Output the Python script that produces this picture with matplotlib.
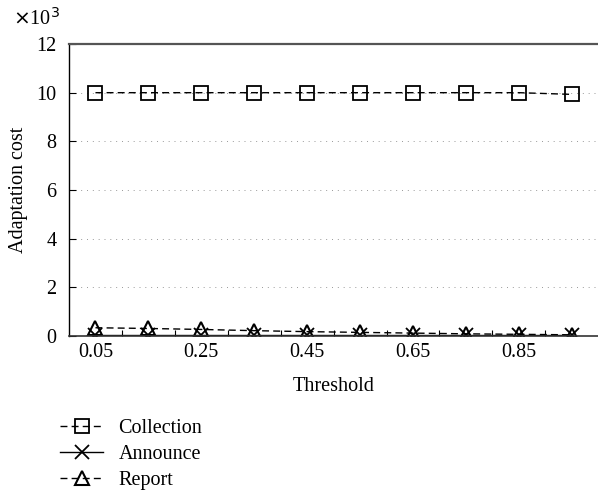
import matplotlib
matplotlib.use("Agg")
import matplotlib.pyplot as plt
from matplotlib.ticker import FixedLocator

plt.rcParams['font.family'] = ['Liberation Serif', 'DejaVu Serif']

thresholds = [0.05, 0.15, 0.25, 0.35, 0.45, 0.55, 0.65, 0.75, 0.85, 0.95]
collection = [10.0, 10.0, 10.0, 10.0, 10.0, 10.0, 10.0, 10.0, 10.0, 9.93]
announce = [0.04, 0.04, 0.04, 0.04, 0.04, 0.04, 0.04, 0.04, 0.04, 0.04]
report = [0.34, 0.31, 0.27, 0.22, 0.18, 0.15, 0.12, 0.09, 0.07, 0.05]
xtick_labels = ["0.05", "0.25", "0.45", "0.65", "0.85"]
yticks = [0, 2, 4, 6, 8, 10, 12]

FS = 14.5

fig = plt.figure(figsize=(5.98, 4.94), dpi=100)
ax = fig.add_axes([0.1154, 0.3198, 0.885, 0.5911])

ax.plot(thresholds, collection, linestyle=(0, (5, 3)), color='black', lw=1.0,
        marker='s', markersize=9.5, markerfacecolor='none', markeredgewidth=1.3,
        label='Collection')
ax.plot(thresholds, announce, linestyle='-', color='black', lw=1.0,
        marker='x', markersize=10, markeredgewidth=1.3, label='Announce')
ax.plot(thresholds, report, linestyle=(0, (5, 3)), color='black', lw=1.0,
        marker='^', markersize=10, markerfacecolor='none', markeredgewidth=1.5,
        label='Report')

ax.set_xlim(0, 1.0)
ax.set_ylim(0, 12)
ax.set_xticks([float(t) for t in xtick_labels])
ax.set_xticklabels(xtick_labels)
ax.xaxis.set_minor_locator(FixedLocator([0.1, 0.2, 0.3, 0.4, 0.5, 0.6, 0.7, 0.8, 0.9]))
ax.set_yticks(yticks)
ax.tick_params(axis='x', which='major', direction='in', length=0, labelsize=FS, pad=5)
ax.tick_params(axis='x', which='minor', direction='in', length=4, width=0.8)
ax.tick_params(axis='y', which='major', direction='in', length=5, width=0.8, labelsize=FS, pad=9)

for y in yticks[1:-1]:
    ax.axhline(y, color='#999999', lw=0.7, linestyle=(0, (1, 5)), zorder=0)

ax.spines['right'].set_visible(False)
ax.spines['top'].set_color('#555555')
ax.spines['top'].set_linewidth(1.6)
ax.spines['left'].set_linewidth(1.0)
ax.spines['bottom'].set_color('#333333')
ax.spines['bottom'].set_linewidth(1.2)

ax.set_xlabel('Threshold', fontsize=FS, labelpad=11)
ax.set_ylabel('Adaptation cost', fontsize=FS, labelpad=6)

fig.text(0.021, 0.962, r'$\times$10$^3$', fontsize=FS, ha='left', va='center')

ax.legend(loc='upper left', bbox_to_anchor=(-0.017, -0.285), frameon=False,
          fontsize=FS, handlelength=2.15, handletextpad=0.75, labelspacing=0.34,
          borderaxespad=0, borderpad=0)

fig.savefig('out.png', dpi=100)
